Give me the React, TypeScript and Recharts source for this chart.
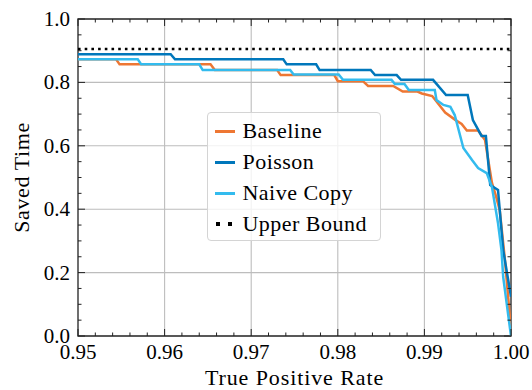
import React from 'react';
import { LineChart, Line, XAxis, YAxis, CartesianGrid, ReferenceArea } from 'recharts';

// ---------- data ----------
const baselineX = [0.95, 0.9544, 0.9548, 0.9653, 0.9658, 0.973, 0.9734, 0.9796, 0.98, 0.9829, 0.9835, 0.9864, 0.9875, 0.9892, 0.9897, 0.9909, 0.9924, 0.9936, 0.9943, 0.9949, 0.9962, 0.997, 0.9978, 0.9983, 0.9987, 0.9993, 0.9996, 1.0];
const baselineY = [0.873, 0.873, 0.857, 0.857, 0.839, 0.839, 0.823, 0.823, 0.804, 0.804, 0.789, 0.789, 0.771, 0.771, 0.765, 0.757, 0.705, 0.681, 0.669, 0.648, 0.648, 0.618, 0.483, 0.438, 0.397, 0.24, 0.145, 0.02];

const poissonX = [0.95, 0.9607, 0.9612, 0.9737, 0.9741, 0.9775, 0.9779, 0.9838, 0.9843, 0.9868, 0.9873, 0.991, 0.9925, 0.995, 0.9956, 0.9966, 0.9971, 0.9976, 0.9985, 0.9991, 1.0];
const poissonY = [0.889, 0.889, 0.873, 0.873, 0.857, 0.857, 0.839, 0.839, 0.823, 0.823, 0.808, 0.808, 0.76, 0.76, 0.681, 0.631, 0.631, 0.476, 0.461, 0.271, 0.124];

const naiveX = [0.95, 0.9569, 0.9573, 0.964, 0.9644, 0.9745, 0.9749, 0.9801, 0.9806, 0.9862, 0.9866, 0.9877, 0.9882, 0.9912, 0.9914, 0.9922, 0.993, 0.9935, 0.9945, 0.9955, 0.9962, 0.9972, 0.9978, 0.9985, 0.9989, 0.9991, 1.0];
const naiveY = [0.873, 0.873, 0.857, 0.857, 0.839, 0.839, 0.825, 0.825, 0.808, 0.808, 0.795, 0.795, 0.776, 0.776, 0.744, 0.729, 0.723, 0.697, 0.593, 0.555, 0.53, 0.514, 0.47, 0.356, 0.271, 0.186, 0.0];

const upperX = [0.95, 1.0];
const upperY = [0.905, 0.905];

const xMajor = [0.95, 0.96, 0.97, 0.98, 0.99, 1.0];
const xMinor = [0.952, 0.954, 0.956, 0.958, 0.962, 0.964, 0.966, 0.968, 0.972, 0.974, 0.976, 0.978, 0.982, 0.984, 0.986, 0.988, 0.992, 0.994, 0.996, 0.998];
const yMajor = [0, 0.2, 0.4, 0.6, 0.8, 1.0];
const yMinor = [0.05, 0.1, 0.15, 0.25, 0.3, 0.35, 0.45, 0.5, 0.55, 0.65, 0.7, 0.75, 0.85, 0.9, 0.95];
const xGrid = [0.96, 0.97, 0.98, 0.99];
const yGrid = [0.2, 0.4, 0.6, 0.8];

const seriesNames = ['Baseline', 'Poisson', 'Naive Copy', 'Upper Bound'];

const zip = (xs: number[], ys: number[]) => xs.map((x, i) => ({ x, y: ys[i] }));
const baselineData = zip(baselineX, baselineY);
const poissonData = zip(poissonX, poissonY);
const naiveData = zip(naiveX, naiveY);
const upperData = zip(upperX, upperY);

// ---------- styling / layout ----------
const COLORS = { baseline: '#EE7733', poisson: '#0077BB', naive: '#33BBEE', upper: '#000000' };
const FONT = 'Liberation Serif, DejaVu Serif, Times New Roman, Times, serif';
const W = 532;
const H = 390;
const YW = 78;
const XH = 54;
const MARGIN = { top: 19, right: 21, left: 0, bottom: 0 };
const PL = MARGIN.left + YW;
const PT = MARGIN.top;
const PR = W - MARGIN.right;
const PB = H - XH - MARGIN.bottom;

const XTick = (props: any) => {
  const { x, payload } = props;
  const v = payload.value;
  const major = xMajor.includes(v);
  const len = major ? 7 : 3.5;
  return (
    <g>
      <line x1={x} x2={x} y1={PB} y2={PB - len} stroke="#222" strokeWidth={1} />
      <line x1={x} x2={x} y1={PT} y2={PT + len} stroke="#222" strokeWidth={1} />
      {major && (
        <text x={x} y={PB + 23} textAnchor="middle" fontFamily={FONT} fontSize={21} fill="#000">
          {v.toFixed(2)}
        </text>
      )}
    </g>
  );
};

const YTick = (props: any) => {
  const { y, payload } = props;
  const v = payload.value;
  const major = yMajor.includes(v);
  const len = major ? 7 : 3.5;
  return (
    <g>
      <line x1={PL} x2={PL + len} y1={y} y2={y} stroke="#222" strokeWidth={1} />
      <line x1={PR} x2={PR - len} y1={y} y2={y} stroke="#222" strokeWidth={1} />
      {major && (
        <text x={PL - 8} y={y + 7} textAnchor="end" fontFamily={FONT} fontSize={21} fill="#000">
          {v.toFixed(1)}
        </text>
      )}
    </g>
  );
};

const XLabel = () => (
  <text x={(PL + PR) / 2} y={385} textAnchor="middle" fontFamily={FONT} fontSize={22} letterSpacing={0.9} fill="#000">
    True Positive Rate
  </text>
);

const YLabel = () => (
  <text
    x={29}
    y={(PT + PB) / 2}
    transform={`rotate(-90 29 ${(PT + PB) / 2})`}
    textAnchor="middle"
    fontFamily={FONT}
    fontSize={22}
    letterSpacing={0.6}
    fill="#000"
  >
    Saved Time
  </text>
);

const legendColors = [COLORS.baseline, COLORS.poisson, COLORS.naive, COLORS.upper];

const LegendBox = () => (
  <div
    style={{
      position: 'absolute',
      left: 207,
      top: 112,
      width: 172,
      height: 127,
      border: '1.5px solid #d4d4d4',
      borderRadius: 4,
      background: 'rgba(255,255,255,0.8)',
      fontFamily: FONT,
      fontSize: 22,
      letterSpacing: 0.5,
      color: '#000',
    }}
  >
    {seriesNames.map((name, i) => (
      <div key={name} style={{ position: 'absolute', left: 0, top: 18.3 + i * 30.9 - 15, height: 30, width: '100%' }}>
        {i < 3 ? (
          <div style={{ position: 'absolute', left: 6.7, top: 13.5, width: 20, height: 3, background: legendColors[i] }} />
        ) : (
          <>
            <div style={{ position: 'absolute', left: 8, top: 13, width: 4, height: 4, background: '#000' }} />
            <div style={{ position: 'absolute', left: 20, top: 13, width: 4, height: 4, background: '#000' }} />
          </>
        )}
        <div style={{ position: 'absolute', left: 34.4, top: 0, lineHeight: '30px', whiteSpace: 'nowrap' }}>{name}</div>
      </div>
    ))}
  </div>
);

export default function App() {
  return (
    <div style={{ position: 'relative', width: W, height: H }}>
      <style>{'body{margin:0;overflow:hidden}'}</style>
      <LineChart width={W} height={H} margin={MARGIN}>
        <CartesianGrid stroke="#bdbdbd" strokeWidth={1.1} verticalValues={xGrid} horizontalValues={yGrid} />
        <XAxis
          type="number"
          dataKey="x"
          domain={[0.95, 1.0]}
          ticks={[...xMajor, ...xMinor]}
          interval={0}
          tick={<XTick />}
          tickLine={false}
          axisLine={false}
          height={XH}
          allowDataOverflow
          label={<XLabel />}
        />
        <YAxis
          type="number"
          domain={[0, 1]}
          ticks={[...yMajor, ...yMinor]}
          interval={0}
          tick={<YTick />}
          tickLine={false}
          axisLine={false}
          width={YW}
          allowDataOverflow
          label={<YLabel />}
        />
        <Line data={baselineData} dataKey="y" name={seriesNames[0]} type="linear" stroke={COLORS.baseline} strokeWidth={2.5} dot={false} isAnimationActive={false} />
        <Line data={poissonData} dataKey="y" name={seriesNames[1]} type="linear" stroke={COLORS.poisson} strokeWidth={2.5} dot={false} isAnimationActive={false} />
        <Line data={naiveData} dataKey="y" name={seriesNames[2]} type="linear" stroke={COLORS.naive} strokeWidth={2.5} dot={false} isAnimationActive={false} />
        <Line data={upperData} dataKey="y" name={seriesNames[3]} type="linear" stroke={COLORS.upper} strokeWidth={2.5} strokeDasharray="2.6 4.1" dot={false} isAnimationActive={false} />
        <ReferenceArea x1={0.95} x2={1.0} y1={0} y2={1} fill="none" fillOpacity={0} stroke="#222" strokeWidth={1.3} />
      </LineChart>
      <LegendBox />
    </div>
  );
}
